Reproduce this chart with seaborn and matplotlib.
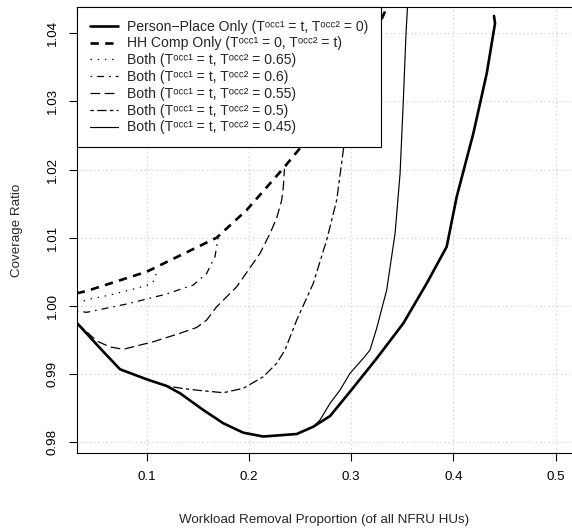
import numpy as np
import pandas as pd
import matplotlib
matplotlib.use("Agg")
import matplotlib.pyplot as plt
import seaborn as sns

# ---------------- data ----------------
pp_x = [0.0315, 0.0560, 0.0739, 0.1000, 0.1196, 0.1326, 0.1554, 0.1750, 0.1945,
        0.2141, 0.2468, 0.2630, 0.2794, 0.2989, 0.3251, 0.3511, 0.3740, 0.3935,
        0.4033, 0.4196, 0.4327, 0.4408, 0.4398]
pp_y = [0.99750, 0.99350, 0.99066, 0.98919, 0.98821, 0.98714, 0.98468, 0.98273, 0.98135,
        0.98079, 0.98116, 0.98223, 0.98380, 0.98737, 0.99228, 0.99742, 1.00329, 1.00866,
        1.01600, 1.02532, 1.03413, 1.04147, 1.04255]

hh_x = [0.0315, 0.0413, 0.1000, 0.1685, 0.1978, 0.2337, 0.2566, 0.2794, 0.2957,
        0.3119, 0.3251, 0.3370]
hh_y = [1.00182, 1.00216, 1.00499, 1.00999, 1.01405, 1.02018, 1.02433, 1.02874, 1.03216,
        1.03656, 1.04048, 1.04450]

b65_x = [0.0315, 0.0445, 0.0641, 0.0837, 0.1000, 0.1062, 0.1086, 0.1101]
b65_y = [1.00040, 1.00098, 1.00157, 1.00231, 1.00297, 1.00348, 1.00436, 1.00530]

b60_x = [0.0315, 0.0413, 0.0804, 0.1196, 0.1358, 0.1456, 0.1587, 0.1668, 0.1701]
b60_y = [0.99922, 0.99903, 1.00025, 1.00172, 1.00256, 1.00304, 1.00476, 1.00720, 1.01020]

b55_x = [0.0315, 0.0511, 0.0641, 0.0771, 0.1065, 0.1326, 0.1489, 0.1587, 0.1685,
         0.1881, 0.2109, 0.2207, 0.2272, 0.2321, 0.2337, 0.2348]
b55_y = [0.99753, 0.99482, 0.99394, 0.99360, 0.99471, 0.99595, 0.99680, 0.99790, 0.99985,
         1.00279, 1.00769, 1.01063, 1.01288, 1.01552, 1.01747, 1.02010]

b50_x = [0.1196, 0.1355, 0.1521, 0.1750, 0.1945, 0.2141, 0.2272, 0.2353, 0.2468,
         0.2630, 0.2761, 0.2859, 0.2924, 0.2957, 0.2963]
b50_y = [0.98821, 0.98784, 0.98755, 0.98722, 0.98787, 0.98957, 0.99154, 0.99349, 0.99790,
         1.00329, 1.00965, 1.01552, 1.02286, 1.02874, 1.03240]

b45_x = [0.2630, 0.2696, 0.2794, 0.2892, 0.2989, 0.3119, 0.3185, 0.3251, 0.3348,
         0.3430, 0.3479, 0.3511, 0.3537, 0.3556]
b45_y = [0.98223, 0.98322, 0.98567, 0.98762, 0.99007, 0.99228, 0.99350, 0.99673, 1.00231,
         1.01063, 1.01944, 1.03021, 1.04000, 1.04500]

# superscripts written with Unicode modifier letters (T^occ1, T^occ2)
series_labels = [
    "Person\u2212Place Only (T\u1d52\u1d9c\u1d9c\u00b9 = t, T\u1d52\u1d9c\u1d9c\u00b2 = 0)",
    "HH Comp Only (T\u1d52\u1d9c\u1d9c\u00b9 = 0, T\u1d52\u1d9c\u1d9c\u00b2 = t)",
    "Both (T\u1d52\u1d9c\u1d9c\u00b9 = t, T\u1d52\u1d9c\u1d9c\u00b2 = 0.65)",
    "Both (T\u1d52\u1d9c\u1d9c\u00b9 = t, T\u1d52\u1d9c\u1d9c\u00b2 = 0.6)",
    "Both (T\u1d52\u1d9c\u1d9c\u00b9 = t, T\u1d52\u1d9c\u1d9c\u00b2 = 0.55)",
    "Both (T\u1d52\u1d9c\u1d9c\u00b9 = t, T\u1d52\u1d9c\u1d9c\u00b2 = 0.5)",
    "Both (T\u1d52\u1d9c\u1d9c\u00b9 = t, T\u1d52\u1d9c\u1d9c\u00b2 = 0.45)",
]

x_ticks = [0.1, 0.2, 0.3, 0.4, 0.5]
x_tick_labels = ["0.1", "0.2", "0.3", "0.4", "0.5"]
y_ticks = [0.98, 0.99, 1.00, 1.01, 1.02, 1.03, 1.04]
y_tick_labels = ["0.98", "0.99", "1.00", "1.01", "1.02", "1.03", "1.04"]

x_label = "Workload Removal Proportion (of all NFRU HUs)"
y_label = "Coverage Ratio"

# ---------------- style ----------------
sns.set_style("white")
plt.rcParams["font.family"] = ["Liberation Sans", "DejaVu Sans"]
plt.rcParams["lines.scale_dashes"] = False

fig = plt.figure(figsize=(5.72, 5.29), dpi=100)
ax = fig.add_axes([0.1346, 0.1442, 0.8654, 0.8425])

styles = [
    dict(lw=1.9, linestyle="-"),
    dict(lw=1.9, linestyle=(0, (6.0, 4.6))),
    dict(lw=0.9, linestyle=(0, (1.0, 4.2))),
    dict(lw=0.9, linestyle=(0, (1.2, 3.6, 5.0, 3.6))),
    dict(lw=0.9, linestyle=(0, (7.0, 3.2))),
    dict(lw=0.9, linestyle=(0, (2.4, 2.4, 6.8, 2.4))),
    dict(lw=0.85, linestyle="-"),
]
series = [(pp_x, pp_y), (hh_x, hh_y), (b65_x, b65_y), (b60_x, b60_y),
          (b55_x, b55_y), (b50_x, b50_y), (b45_x, b45_y)]

for (xs, ys), lab, st in zip(series, series_labels, styles):
    df = pd.DataFrame({"x": xs, "y": ys})
    sns.lineplot(data=df, x="x", y="y", ax=ax, color="black", sort=False,
                 estimator=None, label=lab, **st)

ax.set_xlim(0.0318, 0.5161)
ax.set_ylim(0.97841, 1.04386)

ax.set_xticks(x_ticks)
ax.set_xticklabels(x_tick_labels)
ax.set_yticks(y_ticks)
ax.set_yticklabels(y_tick_labels, rotation=90, va="center")

ax.grid(True, color="#d3d3d3", linestyle=(0, (1, 2)), lw=0.8)
ax.set_axisbelow(True)

ax.tick_params(axis="both", direction="out", length=6, width=0.8, color="black",
               pad=7, labelsize=9.6, labelcolor="black", bottom=True, left=True)

for side in ["left", "bottom", "top"]:
    ax.spines[side].set_visible(True)
    ax.spines[side].set_color("black")
    ax.spines[side].set_linewidth(0.8)
ax.spines["right"].set_visible(False)

ax.set_xlabel(x_label, fontsize=9.6)
ax.set_ylabel(y_label, fontsize=9.6)
ax.xaxis.set_label_coords(0.5, -0.137)
ax.yaxis.set_label_coords(-0.110, 0.5)

leg = ax.legend(loc="upper left", bbox_to_anchor=(0, 1), borderaxespad=0,
                fontsize=10.1, frameon=True, fancybox=False, framealpha=1,
                edgecolor="black", handlelength=2.0, handletextpad=0.7,
                borderpad=0.9, labelspacing=0.2)
leg.get_frame().set_linewidth(0.8)

fig.savefig("out.png", dpi=100)
